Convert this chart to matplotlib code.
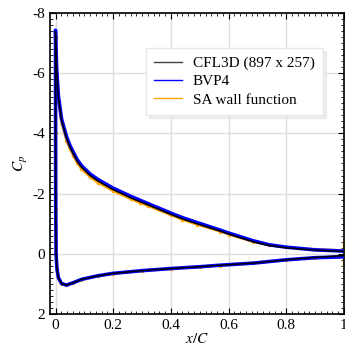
import matplotlib
matplotlib.use("Agg")
import matplotlib.pyplot as plt
from matplotlib.ticker import MultipleLocator

plt.rcParams['font.family'] = ['Liberation Serif', 'DejaVu Serif']
plt.rcParams['mathtext.fontset'] = 'stix'

# CFL3D (897 x 257): upper and lower surface, both starting at the leading edge
x_up_cfl = [0.0, 0.001, 0.004, 0.01, 0.021, 0.038, 0.05, 0.062, 0.075, 0.09, 0.12, 0.147,
            0.2, 0.263, 0.293, 0.32, 0.4, 0.44, 0.49, 0.57, 0.6, 0.686, 0.74, 0.8, 0.9, 1.0]
cp_up_cfl = [-7.38, -7.0, -6.1, -5.2, -4.43, -3.85, -3.55, -3.32, -3.08, -2.88, -2.6, -2.42,
             -2.13, -1.85, -1.73, -1.63, -1.31, -1.16, -1.0, -0.76, -0.66, -0.4, -0.28,
             -0.2, -0.12, -0.08]
x_lo_cfl = [0.0, 0.0003, 0.0008, 0.002, 0.005, 0.01, 0.021, 0.038, 0.062, 0.09, 0.147,
            0.2, 0.3, 0.4, 0.5, 0.57, 0.686, 0.8, 0.9, 1.0]
cp_lo_cfl = [-7.38, -4.0, -1.5, 0.0, 0.5, 0.79, 0.99, 1.04, 0.96, 0.85, 0.73,
             0.65, 0.56, 0.49, 0.43, 0.38, 0.31, 0.2, 0.12, 0.06]

# BVP4
x_up_bvp = [0.0, 0.001, 0.004, 0.01, 0.021, 0.038, 0.05, 0.062, 0.075, 0.09, 0.12, 0.147,
            0.2, 0.263, 0.293, 0.32, 0.4, 0.44, 0.49, 0.57, 0.6, 0.686, 0.74, 0.8, 0.9, 1.0]
cp_up_bvp = [-7.42, -7.05, -6.15, -5.25, -4.48, -3.9, -3.6, -3.37, -3.13, -2.93, -2.65, -2.47,
             -2.18, -1.9, -1.78, -1.67, -1.35, -1.2, -1.04, -0.79, -0.69, -0.43, -0.3,
             -0.22, -0.13, -0.09]
x_lo_bvp = [0.0, 0.0003, 0.0008, 0.002, 0.005, 0.01, 0.021, 0.038, 0.062, 0.09, 0.147,
            0.2, 0.3, 0.4, 0.5, 0.57, 0.686, 0.8, 0.9, 1.0]
cp_lo_bvp = [-7.42, -4.0, -1.5, 0.0, 0.5, 0.79, 0.99, 1.04, 0.96, 0.85, 0.73,
             0.65, 0.56, 0.49, 0.43, 0.38, 0.31, 0.2, 0.13, 0.1]

# SA wall function (last points: scatter at the trailing edge)
x_up_sa = [0.0, 0.001, 0.004, 0.01, 0.021, 0.038, 0.05, 0.062, 0.075, 0.09, 0.12, 0.147,
           0.2, 0.263, 0.293, 0.32, 0.4, 0.44, 0.49, 0.57, 0.6, 0.686, 0.74, 0.8, 0.9, 1.0,
           1.0, 1.0]
cp_up_sa = [-7.2, -6.8, -5.95, -5.05, -4.32, -3.76, -3.47, -3.25, -3.01, -2.81, -2.54, -2.36,
            -2.08, -1.81, -1.69, -1.59, -1.28, -1.13, -0.97, -0.74, -0.64, -0.39, -0.28,
            -0.21, -0.15, -0.12, -0.2, -0.36]
x_lo_sa = [0.0, 0.0003, 0.0008, 0.002, 0.005, 0.01, 0.021, 0.038, 0.062, 0.09, 0.147,
           0.2, 0.3, 0.4, 0.5, 0.57, 0.686, 0.8, 0.9, 1.0, 1.0]
cp_lo_sa = [-7.2, -4.0, -1.5, 0.0, 0.5, 0.8, 1.0, 1.05, 0.97, 0.86, 0.74,
            0.66, 0.57, 0.5, 0.44, 0.39, 0.32, 0.21, 0.13, 0.08, 0.37]

fig = plt.figure(figsize=(3.45, 3.46), dpi=100)
ax = fig.add_axes([0.145, 0.0925, 0.852, 0.87])

line_kw = dict(solid_joinstyle="round", solid_capstyle="round")
ax.plot(x_up_sa, cp_up_sa, color="orange", lw=1.6, marker="o", ms=1.5, zorder=2, **line_kw)
ax.plot(x_lo_sa, cp_lo_sa, color="orange", lw=1.6, marker="o", ms=1.5, zorder=2, **line_kw)
ax.plot(x_up_bvp, cp_up_bvp, color="blue", lw=2.6, zorder=3, **line_kw)
ax.plot(x_lo_bvp, cp_lo_bvp, color="blue", lw=2.6, zorder=3, **line_kw)
ax.plot(x_up_cfl, cp_up_cfl, color="black", lw=1.1, zorder=4, **line_kw)
ax.plot(x_lo_cfl, cp_lo_cfl, color="black", lw=1.1, zorder=4, **line_kw)

# legend handles
ax.plot([], [], color="#444444", lw=1, label="CFL3D (897 x 257)")
ax.plot([], [], color="blue", lw=1, label="BVP4")
ax.plot([], [], color="orange", lw=1, label="SA wall function")
ax.legend(loc="upper right", bbox_to_anchor=(0.928, 0.884), borderaxespad=0,
          fontsize=11, shadow={"ox": 2, "oy": -2, "shade": 0.12},
          fancybox=False, edgecolor="#e8e8e8", handlelength=1.8, handletextpad=0.7,
          borderpad=0.55, labelspacing=0.3)

ax.set_xlim(-0.019, 1.0)
ax.set_ylim(2, -8)
ax.set_xticks([0, 0.2, 0.4, 0.6, 0.8, 1.0])
ax.set_xticklabels(["0", "0.2", "0.4", "0.6", "0.8", "1"])
ax.xaxis.set_minor_locator(MultipleLocator(0.02))
ax.yaxis.set_major_locator(MultipleLocator(2))
ax.yaxis.set_minor_locator(MultipleLocator(0.2))
ax.yaxis.set_major_formatter(plt.FuncFormatter(lambda v, p: "%d" % v))
ax.tick_params(which="both", direction="in", top=True, right=True, labelsize=11)
ax.tick_params(which="major", length=4)
ax.tick_params(which="minor", length=2.5)
ax.grid(True, which="major", color="#dddddd", lw=1)
ax.set_axisbelow(True)
for s in ax.spines.values():
    s.set_linewidth(1.2)

ax.set_xlabel("$x/C$", fontsize=11, labelpad=0)
ax.set_ylabel("$C_p$", fontsize=11, labelpad=2)

fig.savefig("out.png", dpi=100)
